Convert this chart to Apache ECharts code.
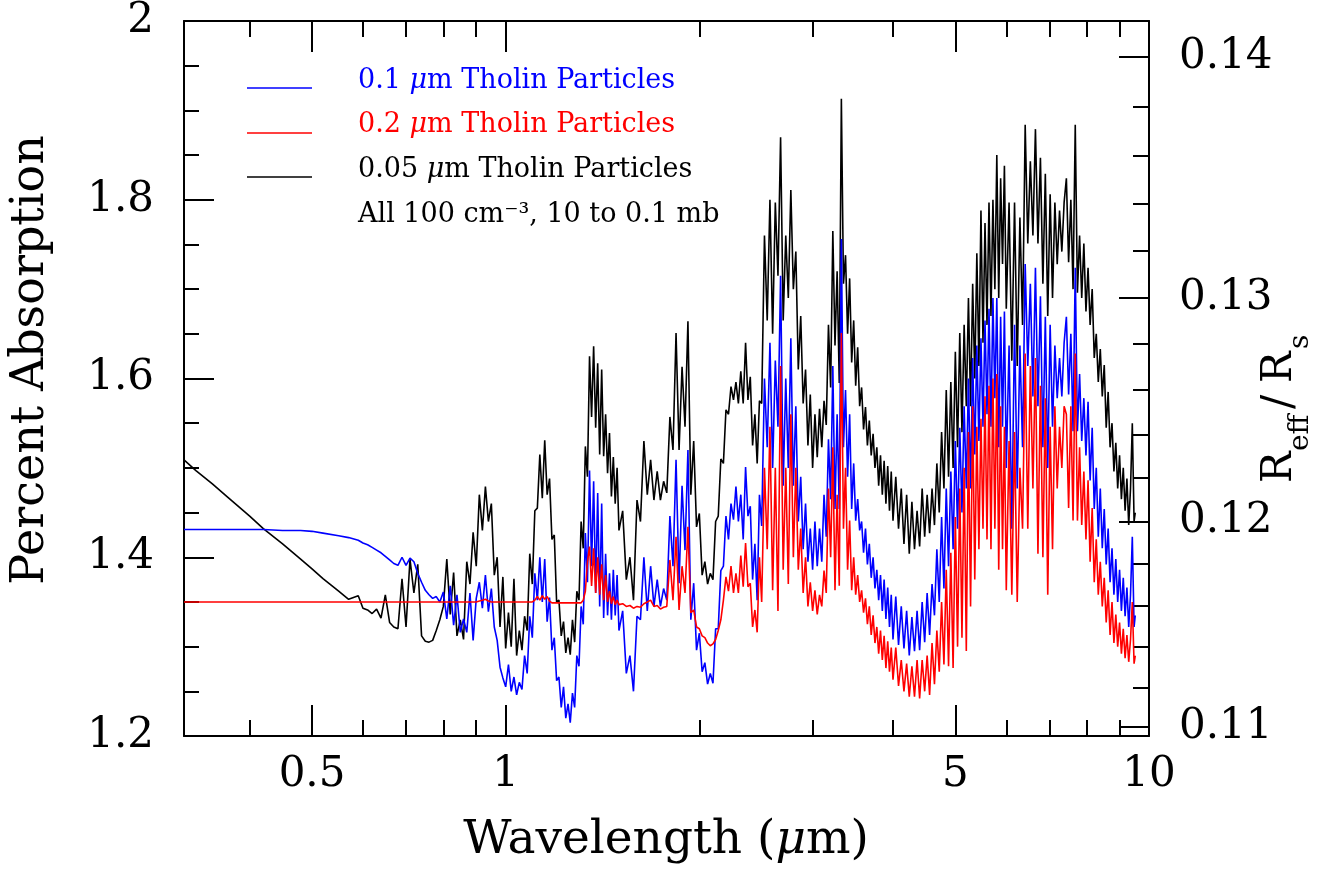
<!DOCTYPE html>
<html>
<head>
<meta charset="utf-8">
<script src="https://cdn.jsdelivr.net/npm/echarts@6/dist/echarts.min.js"></script>
<style>
html,body{margin:0;padding:0;background:#fff;}
#chart{width:1332px;height:871px;}
</style>
</head>
<body>
<div id="chart"></div>
<script>
// ---------------- DATA ----------------
// Wavelength grid (micron)
const wavelength = [
  // 0.316 - 0.69
  0.3162,0.33,0.35,0.37,0.40,0.42,0.45,0.48,0.50,0.52,
  0.55,0.57,0.59,0.60,0.61,0.62,0.63,0.64,0.65,0.66,
  0.67,0.68,0.69,
  // 0.70 - 0.99
  0.70,0.71,0.72,0.73,0.74,0.75,0.76,0.77,0.78,0.79,
  0.80,0.81,0.82,0.83,0.84,0.85,0.86,0.87,0.88,0.89,
  0.90,0.91,0.92,0.93,0.94,0.95,0.96,0.97,0.98,0.99,
  // 1.00 - 1.49
  1.00,1.01,1.02,1.03,1.04,1.05,1.06,1.07,1.08,1.09,
  1.10,1.11,1.12,1.13,1.14,1.15,1.16,1.17,1.18,1.19,
  1.20,1.21,1.22,1.23,1.24,1.25,1.26,1.27,1.28,1.29,
  1.30,1.31,1.32,1.33,1.34,1.35,1.36,1.37,1.38,1.39,
  1.40,1.41,1.42,1.43,1.44,1.45,1.46,1.47,1.48,1.49,
  // 1.50 - 2.48
  1.50,1.52,1.54,1.56,1.58,1.60,1.62,1.64,1.66,1.68,
  1.70,1.72,1.74,1.76,1.78,1.80,1.82,1.84,1.86,1.88,
  1.90,1.92,1.94,1.96,1.98,2.00,2.02,2.04,2.06,2.08,
  2.10,2.12,2.14,2.16,2.18,2.20,2.22,2.24,2.26,2.28,
  2.30,2.32,2.34,2.36,2.38,2.40,2.42,2.44,2.46,2.48,
  // 2.500 - 3.975
  2.500,2.525,2.550,2.575,2.600,2.625,2.650,2.675,2.700,2.725,
  2.750,2.775,2.800,2.825,2.850,2.875,2.900,2.925,2.950,2.975,
  3.000,3.025,3.050,3.075,3.100,3.125,3.150,3.175,3.200,3.225,
  3.250,3.275,3.300,3.325,3.350,3.375,3.400,3.425,3.450,3.475,
  3.500,3.525,3.550,3.575,3.600,3.625,3.650,3.675,3.700,3.725,
  3.750,3.775,3.800,3.825,3.850,3.875,3.900,3.925,3.950,3.975,
  // 4.00 - 5.96
  4.00,4.04,4.08,4.12,4.16,4.20,4.24,4.28,4.32,4.36,
  4.40,4.44,4.48,4.52,4.56,4.60,4.64,4.68,4.72,4.76,
  4.80,4.84,4.88,4.92,4.96,5.00,5.04,5.08,5.12,5.16,
  5.20,5.24,5.28,5.32,5.36,5.40,5.44,5.48,5.52,5.56,
  5.60,5.64,5.68,5.72,5.76,5.80,5.84,5.88,5.92,5.96,
  // 6.00 - 9.52
  6.00,6.06,6.12,6.18,6.24,6.30,6.36,6.42,6.48,6.54,
  6.60,6.66,6.72,6.78,6.84,6.90,6.96,7.02,7.08,7.14,
  7.20,7.26,7.32,7.38,7.44,7.50,7.56,7.62,7.68,7.74,
  7.80,7.86,7.92,7.98,8.04,8.10,8.16,8.22,8.28,8.34,
  8.40,8.46,8.52,8.58,8.64,8.70,8.76,8.82,8.88,8.94,
  9.00,9.06,9.12,9.18,9.24,9.30,9.36,9.42,9.48,9.52
];

// Percent absorption, 0.05 micron tholin particles (black)
const absorb005 = [
  1.509,1.497,1.482,1.467,1.446,1.432,1.415,1.398,1.387,1.376,
  1.362,1.353,1.357,1.343,1.341,1.337,1.342,1.332,1.358,1.327,
  1.322,1.320,1.376,
  1.322,1.398,1.360,1.392,1.312,1.306,1.305,1.307,1.318,1.330,
  1.345,1.398,1.336,1.383,1.312,1.330,1.308,1.395,1.370,1.428,
  1.390,1.470,1.430,1.479,1.440,1.460,1.380,1.400,1.322,1.378,
  1.298,1.338,1.300,1.376,1.290,1.318,1.296,1.334,1.318,1.404,
  1.370,1.452,1.455,1.515,1.466,1.531,1.470,1.488,1.420,1.425,
  1.350,1.352,1.312,1.328,1.293,1.310,1.291,1.330,1.305,1.362,
  1.352,1.440,1.410,1.524,1.490,1.625,1.557,1.636,1.545,1.617,
  1.515,1.610,1.513,1.560,1.494,1.539,1.468,1.512,1.460,1.500,
  1.430,1.452,1.375,1.400,1.352,1.464,1.440,1.530,1.470,1.509,
  1.464,1.496,1.464,1.485,1.472,1.557,1.520,1.651,1.520,1.613,
  1.546,1.664,1.470,1.530,1.434,1.449,1.380,1.395,1.370,1.382,
  1.375,1.440,1.446,1.510,1.505,1.565,1.560,1.591,1.576,1.596,
  1.572,1.608,1.572,1.640,1.576,1.602,1.525,1.560,1.505,1.575,
  1.572,1.760,1.665,1.800,1.650,1.797,1.715,1.870,1.665,1.760,
  1.690,1.811,1.700,1.742,1.610,1.670,1.572,1.610,1.525,1.582,
  1.500,1.560,1.512,1.566,1.523,1.575,1.548,1.660,1.590,1.765,
  1.637,1.720,1.595,1.913,1.706,1.738,1.650,1.712,1.618,1.665,
  1.592,1.635,1.569,1.590,1.543,1.568,1.525,1.553,1.514,1.538,
  1.500,1.523,1.480,1.514,1.470,1.508,1.460,1.502,1.452,1.496,
  1.441,1.490,1.432,1.477,1.415,1.470,1.404,1.462,1.409,1.452,
  1.412,1.477,1.423,1.470,1.427,1.477,1.436,1.505,1.450,1.540,
  1.477,1.587,1.490,1.596,1.500,1.630,1.523,1.651,1.540,1.660,
  1.569,1.690,1.569,1.706,1.600,1.740,1.614,1.788,1.640,1.774,
  1.660,1.797,1.670,1.800,1.700,1.850,1.690,1.824,1.728,1.838,
  1.678,1.797,1.620,1.797,1.614,1.780,1.660,1.884,1.751,1.843,
  1.760,1.879,1.751,1.847,1.706,1.829,1.670,1.806,1.690,1.797,
  1.728,1.788,1.742,1.797,1.824,1.730,1.800,1.700,1.884,1.696,
  1.760,1.690,1.751,1.675,1.724,1.660,1.700,1.623,1.650,1.596,
  1.633,1.580,1.615,1.545,1.585,1.523,1.550,1.496,1.528,1.477,
  1.514,1.465,1.500,1.452,1.488,1.436,1.477,1.550,1.440,1.450
];

// Percent absorption, 0.1 micron tholin particles (blue)
const absorb01 = [
  1.431,1.431,1.431,1.431,1.431,1.431,1.430,1.430,1.429,1.427,
  1.424,1.422,1.419,1.416,1.414,1.411,1.408,1.405,1.401,1.397,
  1.393,1.391,1.400,
  1.391,1.399,1.395,1.382,1.372,1.363,1.358,1.354,1.356,1.350,
  1.361,1.331,1.368,1.324,1.358,1.316,1.331,1.316,1.360,1.307,
  1.354,1.372,1.343,1.380,1.339,1.365,1.322,1.307,1.277,1.265,
  1.255,1.280,1.250,1.266,1.246,1.260,1.252,1.290,1.270,1.334,
  1.310,1.382,1.352,1.400,1.350,1.398,1.328,1.355,1.296,1.310,
  1.262,1.266,1.232,1.255,1.220,1.236,1.215,1.248,1.232,1.290,
  1.278,1.345,1.325,1.427,1.372,1.497,1.390,1.485,1.360,1.472,
  1.345,1.460,1.332,1.404,1.335,1.382,1.330,1.386,1.335,1.380,
  1.318,1.340,1.270,1.290,1.250,1.334,1.330,1.400,1.340,1.390,
  1.345,1.375,1.345,1.365,1.352,1.446,1.390,1.509,1.371,1.480,
  1.408,1.520,1.330,1.371,1.296,1.315,1.272,1.282,1.258,1.270,
  1.259,1.320,1.320,1.385,1.390,1.446,1.420,1.460,1.442,1.479,
  1.440,1.470,1.420,1.501,1.446,1.457,1.375,1.415,1.352,1.470,
  1.435,1.600,1.523,1.640,1.500,1.620,1.546,1.715,1.480,1.600,
  1.500,1.645,1.480,1.569,1.440,1.490,1.409,1.460,1.395,1.432,
  1.386,1.440,1.390,1.432,1.395,1.470,1.423,1.532,1.465,1.614,
  1.454,1.560,1.454,1.756,1.523,1.587,1.490,1.560,1.454,1.505,
  1.441,1.465,1.430,1.440,1.405,1.432,1.392,1.415,1.377,1.400,
  1.365,1.386,1.352,1.380,1.340,1.375,1.331,1.366,1.322,1.358,
  1.308,1.356,1.302,1.345,1.298,1.340,1.290,1.333,1.295,1.340,
  1.296,1.350,1.305,1.360,1.313,1.370,1.335,1.409,1.350,1.445,
  1.365,1.477,1.390,1.496,1.409,1.530,1.432,1.545,1.450,1.569,
  1.477,1.600,1.477,1.623,1.515,1.637,1.530,1.645,1.546,1.665,
  1.560,1.678,1.546,1.690,1.578,1.690,1.523,1.669,1.546,1.675,
  1.500,1.637,1.432,1.660,1.477,1.637,1.523,1.728,1.614,1.706,
  1.580,1.724,1.569,1.692,1.523,1.669,1.500,1.660,1.546,1.637,
  1.578,1.623,1.580,1.640,1.669,1.582,1.650,1.541,1.724,1.541,
  1.605,1.530,1.578,1.514,1.574,1.486,1.545,1.454,1.500,1.423,
  1.477,1.410,1.454,1.392,1.432,1.372,1.410,1.358,1.398,1.350,
  1.386,1.340,1.377,1.334,1.366,1.322,1.358,1.423,1.322,1.335
];

// Percent absorption, 0.2 micron tholin particles (red)
const absorb02 = [
  1.350,1.350,1.350,1.350,1.350,1.350,1.350,1.350,1.350,1.350,
  1.350,1.350,1.350,1.350,1.350,1.350,1.350,1.350,1.350,1.350,
  1.350,1.350,1.350,
  1.350,1.350,1.350,1.350,1.350,1.350,1.350,1.350,1.350,1.350,
  1.350,1.350,1.350,1.350,1.350,1.350,1.350,1.350,1.350,1.350,
  1.350,1.351,1.352,1.353,1.351,1.350,1.350,1.350,1.350,1.350,
  1.350,1.350,1.350,1.350,1.350,1.350,1.350,1.350,1.350,1.350,
  1.350,1.352,1.356,1.352,1.357,1.353,1.356,1.351,1.349,1.349,
  1.349,1.349,1.349,1.349,1.349,1.349,1.349,1.349,1.349,1.349,
  1.349,1.349,1.352,1.362,1.395,1.412,1.368,1.410,1.360,1.400,
  1.358,1.392,1.352,1.380,1.350,1.362,1.348,1.356,1.347,1.352,
  1.347,1.348,1.345,1.346,1.343,1.345,1.344,1.348,1.350,1.352,
  1.345,1.346,1.342,1.344,1.345,1.397,1.352,1.423,1.341,1.390,
  1.360,1.434,1.338,1.341,1.322,1.320,1.312,1.310,1.304,1.301,
  1.303,1.308,1.318,1.330,1.352,1.378,1.362,1.390,1.360,1.382,
  1.360,1.402,1.367,1.416,1.367,1.371,1.322,1.341,1.316,1.400,
  1.350,1.500,1.409,1.546,1.363,1.500,1.340,1.614,1.386,1.500,
  1.370,1.560,1.400,1.500,1.386,1.432,1.360,1.400,1.345,1.372,
  1.340,1.363,1.336,1.358,1.345,1.385,1.360,1.477,1.400,1.523,
  1.363,1.470,1.368,1.651,1.432,1.500,1.386,1.441,1.363,1.400,
  1.358,1.380,1.350,1.363,1.338,1.354,1.325,1.345,1.313,1.335,
  1.304,1.322,1.292,1.318,1.285,1.312,1.276,1.306,1.272,1.299,
  1.263,1.299,1.256,1.285,1.250,1.281,1.244,1.278,1.244,1.285,
  1.242,1.285,1.250,1.290,1.246,1.304,1.258,1.318,1.272,1.350,
  1.280,1.386,1.278,1.405,1.276,1.445,1.300,1.477,1.310,1.500,
  1.295,1.540,1.345,1.569,1.375,1.546,1.409,1.555,1.432,1.580,
  1.420,1.592,1.409,1.600,1.432,1.605,1.386,1.569,1.409,1.546,
  1.363,1.530,1.358,1.540,1.350,1.500,1.432,1.628,1.432,1.614,
  1.477,1.623,1.404,1.592,1.400,1.578,1.358,1.546,1.409,1.569,
  1.477,1.546,1.500,1.569,1.560,1.455,1.569,1.441,1.628,1.441,
  1.523,1.436,1.496,1.420,1.486,1.395,1.455,1.372,1.420,1.358,
  1.395,1.345,1.377,1.327,1.363,1.313,1.350,1.304,1.336,1.300,
  1.327,1.292,1.320,1.287,1.313,1.283,1.308,1.350,1.281,1.290
];

// Tick values
const xMajorTicks = [0.5, 1, 5, 10];
const xMinorTicks = [0.4, 0.6, 0.7, 0.8, 0.9, 2, 3, 4, 6, 7, 8, 9];
const rMajorTicks = [0.11, 0.12, 0.13, 0.14];
const rMinorTicks = [0.112, 0.114, 0.116, 0.118, 0.122, 0.124, 0.126, 0.128, 0.132, 0.134, 0.136, 0.138];

// Texts
const seriesNames = ['0.1 μm Tholin Particles', '0.2 μm Tholin Particles', '0.05 μm Tholin Particles'];
const noteText = 'All 100 cm⁻³, 10 to 0.1 mb';
const xTitle = 'Wavelength (μm)';
const yTitle = 'Percent Absorption';

// ---------------- CHART ----------------
const FONT = 'DejaVu Serif';
const BLUE = '#0000ff', RED = '#ff0000', BLACK = '#000000';
const toPct = r => r * r * 100;               // R_eff/R_s  ->  percent absorption
const pairs = arr => wavelength.map((w, i) => [w, arr[i]]);

const tickStyle = { color: '#000', width: 2 };
const lineAxis = { show: true, lineStyle: { color: '#000', width: 2 } };
const noLine = { show: false };
const labelFont = { fontFamily: FONT, fontSize: 42, color: '#000' };

function xAx(pos, custom, len, withLine, withLabel) {
  return {
    type: 'log', logBase: 10, min: 0.3162, max: 10, gridIndex: 0, position: pos,
    axisLine: withLine ? lineAxis : noLine,
    axisTick: { show: true, inside: true, length: len, customValues: custom, lineStyle: tickStyle },
    axisLabel: withLabel ? Object.assign({ show: true, customValues: custom, margin: 18,
      formatter: v => String(+(+v).toPrecision(6)) }, labelFont) : { show: false },
    splitLine: { show: false }, minorTick: { show: false }, minorSplitLine: { show: false }
  };
}

function lineSeries(name, arr, color, z) {
  return {
    name, type: 'line', xAxisIndex: 0, yAxisIndex: 0, data: pairs(arr),
    symbol: 'none', showSymbol: false, sampling: null, silent: true, z,
    lineStyle: { color, width: 1.6 }, itemStyle: { color }, animation: false
  };
}

const legendYs = [81, 125, 170];
const legendLineYs = [88, 133, 177];
const legendColors = [BLUE, RED, BLACK];
const graphics = [];
seriesNames.forEach((name, i) => {
  graphics.push({ type: 'line', silent: true,
    shape: { x1: 247, y1: legendLineYs[i], x2: 312, y2: legendLineYs[i] },
    style: { stroke: legendColors[i], lineWidth: 1.5 } });
  const parts = name.split('μ');
  graphics.push({ type: 'text', silent: true, x: 358, y: legendYs[i],
    style: {
      text: parts[0] + '{mu|μ}' + parts[1],
      fontFamily: FONT, fontSize: 27, fill: legendColors[i],
      align: 'left', verticalAlign: 'middle', textAlign: 'left', textVerticalAlign: 'middle',
      rich: { mu: { fontFamily: FONT, fontSize: 27, fontStyle: 'italic', fill: legendColors[i] } }
    } });
});
graphics.push({ type: 'text', silent: true, x: 358, y: 215,
  style: { text: noteText, fontFamily: FONT, fontSize: 27, fill: BLACK,
    align: 'left', verticalAlign: 'middle', textAlign: 'left', textVerticalAlign: 'middle' } });
// axis titles
graphics.push({ type: 'text', silent: true, x: 666, y: 841,
  style: { text: xTitle.replace('μ', '{mu|μ}'), fontFamily: FONT, fontSize: 47, fill: BLACK,
    align: 'center', verticalAlign: 'middle', textAlign: 'center', textVerticalAlign: 'middle',
    rich: { mu: { fontFamily: FONT, fontSize: 47, fontStyle: 'italic', fill: BLACK } } } });
graphics.push({ type: 'text', silent: true, x: 31, y: 360, rotation: Math.PI / 2,
  style: { text: yTitle, fontFamily: FONT, fontSize: 46, fill: BLACK,
    align: 'center', verticalAlign: 'middle', textAlign: 'center', textVerticalAlign: 'middle' } });
// right title  R_eff / R_s  (rotated group, subscripts lowered)
function rPiece(text, tx, sub) {
  return { type: 'text', silent: true, x: tx, y: sub ? 5 : -16,
    style: { text, fontFamily: FONT, fontSize: sub ? 28 : 42, fill: BLACK,
      align: 'left', verticalAlign: 'middle', textAlign: 'left', textVerticalAlign: 'middle' } };
}
graphics.push({ type: 'group', silent: true, x: 1296, y: 483, rotation: Math.PI / 2,
  children: [rPiece('R', 0, false), rPiece('eff', 32, true), rPiece('/', 74, false),
             rPiece('R', 100, false), rPiece('s', 134, true)] });

const chart = echarts.init(document.getElementById('chart'), null, { renderer: 'canvas' });
chart.setOption({
  animation: false,
  backgroundColor: '#ffffff',
  grid: { left: 184, top: 21, width: 965, height: 715, containLabel: false, outerBoundsMode: 'none' },
  xAxis: [
    xAx('bottom', xMajorTicks, 31, true, true),
    xAx('bottom', xMinorTicks, 16, false, false),
    xAx('top', xMajorTicks, 31, true, false),
    xAx('top', xMinorTicks, 16, false, false)
  ],
  yAxis: [
    { type: 'value', min: 1.2, max: 2, interval: 0.2, position: 'left',
      axisLine: lineAxis,
      axisTick: { show: true, inside: true, length: 30, lineStyle: tickStyle },
      minorTick: { show: true, splitNumber: 4, length: 15, lineStyle: tickStyle },
      axisLabel: Object.assign({ margin: 30,
        formatter: v => (Math.abs(v - 2) < 1e-9 ? '2' : (+v).toFixed(1)) }, labelFont),
      splitLine: { show: false }, minorSplitLine: { show: false } },
    { type: 'value', min: 1.2, max: 2, position: 'right',
      axisLine: lineAxis,
      axisTick: { show: true, inside: true, length: 30, customValues: rMajorTicks.map(toPct), lineStyle: tickStyle },
      axisLabel: Object.assign({ margin: 30, customValues: rMajorTicks.map(toPct),
        formatter: v => Math.sqrt(v / 100).toFixed(2) }, labelFont),
      splitLine: { show: false } },
    { type: 'value', min: 1.2, max: 2, position: 'right',
      axisLine: noLine,
      axisTick: { show: true, inside: true, length: 16, customValues: rMinorTicks.map(toPct), lineStyle: tickStyle },
      axisLabel: { show: false },
      splitLine: { show: false } }
  ],
  series: [
    lineSeries(seriesNames[2], absorb005, BLACK, 2),
    lineSeries(seriesNames[0], absorb01, BLUE, 3),
    lineSeries(seriesNames[1], absorb02, RED, 4)
  ],
  graphic: graphics
});
</script>
</body>
</html>
